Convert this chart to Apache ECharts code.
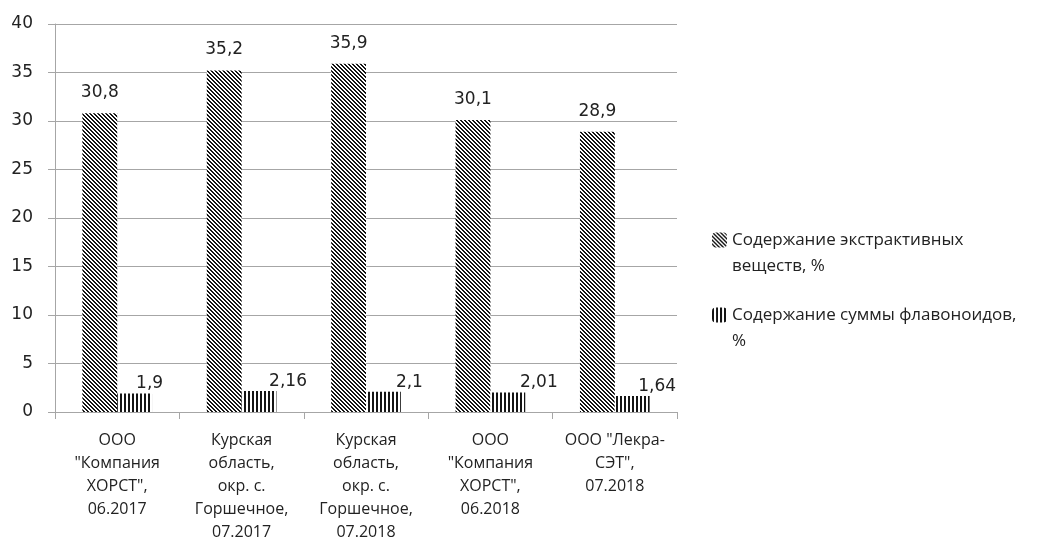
<!DOCTYPE html>
<html>
<head>
<meta charset="utf-8">
<script src="https://cdn.jsdelivr.net/npm/echarts@6/dist/echarts.min.js"></script>
<style>
html,body{margin:0;padding:0;background:#fff;}
#chart{width:1060px;height:556px;}
</style>
</head>
<body>
<div id="chart"></div>
<script>
const categories = [
  'ООО\n"Компания\nХОРСТ",\n06.2017',
  'Курская\nобласть,\nокр. с.\nГоршечное,\n07.2017',
  'Курская\nобласть,\nокр. с.\nГоршечное,\n07.2018',
  'ООО\n"Компания\nХОРСТ",\n06.2018',
  'ООО "Лекра-\nСЭТ",\n07.2018'
];
const seriesNames = ['Содержание экстрактивных\nвеществ, %', 'Содержание суммы флавоноидов,\n%'];
const extractive = [30.8, 35.2, 35.9, 30.1, 28.9];
const flavonoids = [1.9, 2.16, 2.1, 2.01, 1.64];
const yTicks = { min: 0, max: 40, interval: 5 };

// style-only: horizontal nudges of the flavonoid value labels
const flavLabelNudge = [15, 29, 26, 31, 25];

function makePattern(kind) {
  const c = document.createElement('canvas');
  const n = 12;
  c.width = n; c.height = n;
  const ctx = c.getContext('2d');
  const img = ctx.createImageData(n, n);
  for (let y = 0; y < n; y++) {
    for (let x = 0; x < n; x++) {
      let dark;
      if (kind === 'diag') {
        dark = (((x - y) % 4) + 4) % 4 < 2;
      } else {
        dark = (x % 4) < 2;
      }
      const v = dark ? 20 : 255;
      const i = (y * n + x) * 4;
      img.data[i] = v; img.data[i+1] = v; img.data[i+2] = v; img.data[i+3] = 255;
    }
  }
  ctx.putImageData(img, 0, 0);
  return { image: c, repeat: 'repeat' };
}

const diag = makePattern('diag');
const vert = makePattern('vert');
const fmt = v => String(v).replace('.', ',');
const numFont = 'DejaVu Sans';

const chart = echarts.init(document.getElementById('chart'), null, { renderer: 'canvas' });
chart.setOption({
  animation: false,
  backgroundColor: '#fff',
  grid: { left: 55, right: 383, top: 24, bottom: 144, containLabel: false },
  legend: {
    orient: 'vertical',
    left: 712,
    top: 201,
    padding: 0,
    itemWidth: 15,
    itemHeight: 15,
    itemGap: -3,
    selectedMode: false,
    formatter: name => '\u00a0\n' + name,
    textStyle: { fontFamily: 'Open Sans', fontSize: 17, color: '#222', lineHeight: 26 },
    data: [
      { name: seriesNames[0], itemStyle: { color: diag } },
      { name: seriesNames[1], itemStyle: { color: vert } }
    ]
  },
  xAxis: {
    type: 'category',
    data: categories,
    axisLine: { lineStyle: { color: '#a6a6a6', width: 1 } },
    axisTick: { show: true, length: 7, lineStyle: { color: '#a6a6a6' } },
    axisLabel: { interval: 0, margin: 17, fontFamily: 'Open Sans', fontSize: 16, color: '#222', lineHeight: 23, align: 'center' }
  },
  yAxis: {
    type: 'value',
    min: yTicks.min, max: yTicks.max, interval: yTicks.interval,
    axisLine: { show: true, lineStyle: { color: '#a6a6a6' } },
    axisTick: { show: true, length: 7, lineStyle: { color: '#a6a6a6' } },
    splitLine: { lineStyle: { color: '#a6a6a6', width: 1 } },
    axisLabel: { margin: 22, fontFamily: numFont, fontSize: 17, color: '#222' }
  },
  series: [
    {
      name: seriesNames[0],
      type: 'bar',
      data: extractive,
      barWidth: '28%',
      barGap: '0%',
      itemStyle: { color: diag },
      label: { show: true, position: 'top', distance: 12, fontFamily: numFont, fontSize: 17, color: '#222', formatter: p => fmt(p.value) }
    },
    {
      name: seriesNames[1],
      type: 'bar',
      data: flavonoids.map((v, i) => ({ value: v, label: { offset: [flavLabelNudge[i], 0] } })),
      barWidth: '28%',
      itemStyle: { color: vert },
      label: { show: true, position: 'top', distance: 1, fontFamily: numFont, fontSize: 17, color: '#222', formatter: p => fmt(p.value) }
    }
  ]
});
</script>
</body>
</html>
